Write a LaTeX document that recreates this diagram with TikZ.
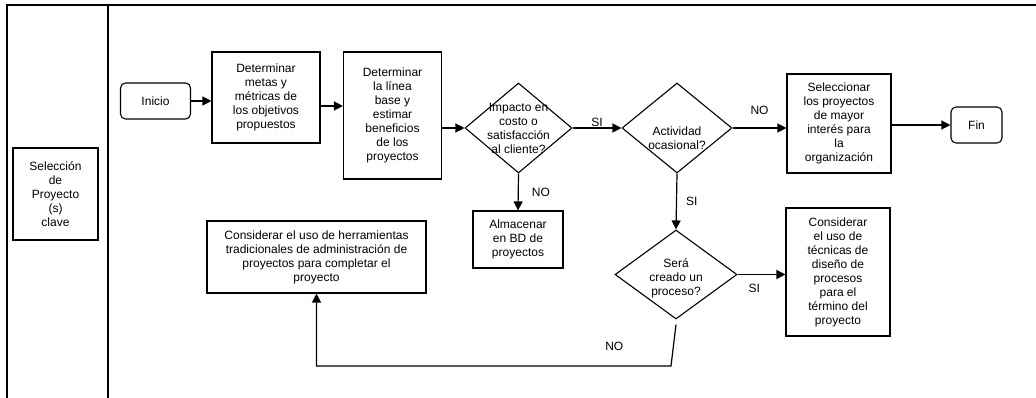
\documentclass[tikz,border=0pt]{standalone}
\usepackage{fontspec}
\setmainfont{Liberation Sans}
\usepackage{tikz}
\tikzset{
    proc/.style={draw, rectangle, line width=1.1pt, align=center, inner sep=2pt},
    term/.style={draw, rectangle, rounded corners=5pt, line width=1.1pt, align=center},
    decision/.style={draw, diamond, line width=1.1pt, inner sep=0pt},
    lane/.style={line width=1.4pt},
    flow/.style={-{Triangle[length=9pt,width=9pt]}, line width=1.2pt},
    cond/.style={inner sep=1pt} }
\usetikzlibrary{arrows.meta, positioning, shapes.geometric}

\begin{document}
\begin{tikzpicture}[x=1pt, y=-1pt, font=\fontsize{12}{14}\selectfont]
			\useasboundingbox (0,0) rectangle (1036,398);
			% frame of the lanes
			\coordinate (tl) at (7,5);
			\coordinate (tr) at (1036,5);
			\coordinate (bl) at (7,398);
			\coordinate (dt) at (108,5);
			\coordinate (db) at (108,398);
			\draw[lane] (bl) -- (tl) -- (tr);
			\draw[lane] (dt) -- (db);
			% ----
			\node[proc, minimum width=85pt, minimum height=92pt] (sel) at (55.5,194) {Selección\\de\\Proyecto\\(s)\\clave};
			\node[term, minimum width=70pt, minimum height=36pt] (ini) at (155.5,101) {Inicio};
			\node[proc, minimum width=108pt, minimum height=91pt] (metas) at (266,97.5) {Determinar\\metas y\\métricas de\\los objetivos\\propuestos};
			\node[proc, minimum width=98pt, minimum height=127pt] (base) at (392.5,115.5) {Determinar\\la línea\\base y\\estimar\\beneficios\\de los\\proyectos};
			\node[decision, minimum width=107pt, minimum height=90pt,
			      label={[align=center]center:Impacto en\\costo o\\satisfacción\\al cliente?}] (imp) at (518.5,128) {};
			\node[decision, minimum width=110pt, minimum height=90pt,
			      label={[align=center, yshift=-10pt]center:Actividad\\ocasional?}] (act) at (677,128) {};
			\node[proc, minimum width=104pt, minimum height=99pt] (mayor) at (839,123.5) {Seleccionar\\los proyectos\\de mayor\\interés para\\la\\organización};
			\node[term, minimum width=51pt, minimum height=36pt] (fin) at (976.5,125) {Fin};
			\node[proc, minimum width=90pt, minimum height=57pt] (alm) at (518,239.5) {Almacenar\\en BD de\\proyectos};
			\node[decision, minimum width=122pt, minimum height=89pt,
			      label={[align=center, yshift=-4pt]center:Será\\creado un\\proceso?}] (proc) at (676,274.5) {};
			\node[proc, minimum width=104pt, minimum height=128pt] (tecn) at (838,272) {Considerar\\el uso de\\técnicas de\\diseño de\\procesos\\para el\\término del\\proyecto};
			\node[proc, minimum width=219pt, minimum height=72pt] (herr) at (316.5,257) {Considerar el uso de herramientas\\tradicionales de administración de\\proyectos para completar el\\proyecto};
			\coordinate (turn) at (671,366);
			% ----
			\draw[flow] (ini.east) -- (ini.east -| metas.west);
			\draw[flow] ([yshift=-8.5pt]metas.east) -- ([yshift=-8.5pt]metas.east -| base.west);
			\draw[flow] (imp.west -| base.east) -- (imp.west);
			\draw[flow] (imp.east) -- node[cond, above] {SI} (act.west);
			\draw[flow] (act.east) -- node[cond, above=12pt] {NO} (act.east -| mayor.west);
			\draw[flow] (fin.west -| mayor.east) -- (fin.west);

			\draw[flow] (imp.south) -- node[cond, right=12pt] {NO} (alm.north);
			\draw[flow] (act.south) -- node[cond, pos=.5, right=8pt] {SI} (proc.north);
			\draw[flow] (proc.east) -- node[cond, pos=.35, below=8pt] {SI} (proc.east -| tecn.west);

			\draw[flow] ([yshift=-5pt]proc.south) -- (turn) -| node[cond, pos=.08, above=14pt] {NO} (herr.south);
		\end{tikzpicture}
\end{document}
